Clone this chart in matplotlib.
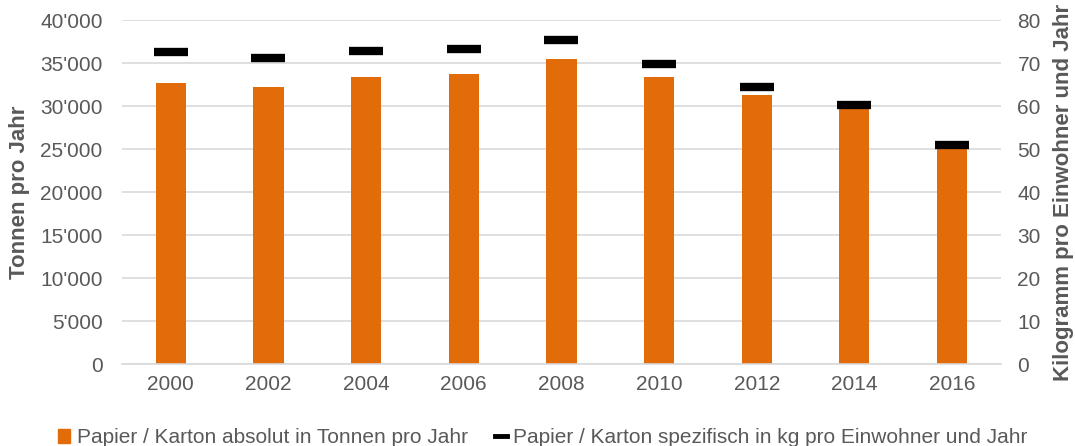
import numpy as np
import matplotlib as mpl
mpl.use("Agg")
import matplotlib.pyplot as plt
from matplotlib.lines import Line2D
from matplotlib.patches import Patch
from matplotlib.ticker import FuncFormatter

plt.rcParams['font.family'] = ['Liberation Sans', 'DejaVu Sans']

years = ['2000', '2002', '2004', '2006', '2008', '2010', '2012', '2014', '2016']
tonnen = [32700, 32280, 33370, 33720, 35500, 33370, 31310, 29900, 25000]
kg_pro_einwohner = [72.7, 71.3, 72.9, 73.3, 75.4, 69.8, 64.5, 60.3, 51.0]

orange = '#E36C0A'
grey = '#595959'
gridc = '#D9D9D9'

fig = plt.figure(figsize=(10.75, 4.46), dpi=100)
ax = fig.add_axes([0.1135, 0.183, 0.8175, 0.7715])
ax2 = ax.twinx()

x = np.arange(len(years))
ax.bar(x, tonnen, width=0.31, color=orange, zorder=2)
ax2.plot(x, kg_pro_einwohner, linestyle='none', marker='_', color='black',
         markersize=24.5, markeredgewidth=6, zorder=3)

ax.set_xlim(-0.5, len(years) - 0.5)
ax.set_ylim(0, 40000)
ax.set_yticks(np.arange(0, 40001, 5000))
ax.yaxis.set_major_formatter(FuncFormatter(lambda v, p: f"{int(v):,}".replace(',', "'")))
ax2.set_ylim(0, 80)
ax2.set_yticks(np.arange(0, 81, 10))

ax.set_xticks(x)
ax.set_xticklabels(years)
ax.grid(axis='y', color=gridc, linewidth=1.2, zorder=0)
ax.set_axisbelow(True)

for a in (ax, ax2):
    for s in a.spines.values():
        s.set_visible(False)
    a.tick_params(length=0, colors=grey, labelsize=15)
ax.spines['bottom'].set_visible(True)
ax.spines['bottom'].set_color(gridc)
ax.spines['bottom'].set_linewidth(1.2)
ax.tick_params(axis='x', pad=8)
ax.tick_params(axis='y', pad=14)
ax2.tick_params(axis='y', pad=12)

ax.set_ylabel('Tonnen pro Jahr', fontsize=16, fontweight='bold', color=grey)
ax2.set_ylabel('Kilogramm pro Einwohner und Jahr', fontsize=16, fontweight='bold',
               color=grey)
ax.yaxis.set_label_coords(-0.105, 0.5)
ax2.yaxis.set_label_coords(1.059, 0.5)

handles = [Patch(color=orange),
           Line2D([], [], color='black', linewidth=3.5)]
labels = ['Papier / Karton absolut in Tonnen pro Jahr',
          'Papier / Karton spezifisch in kg pro Einwohner und Jahr']
fig.legend(handles, labels, loc='lower center', bbox_to_anchor=(0.505, -0.045), ncol=2,
           frameon=False, fontsize=15, labelcolor=grey, handlelength=0.6,
           handletextpad=0.3, columnspacing=1.3)

fig.savefig('out.png', dpi=100)
